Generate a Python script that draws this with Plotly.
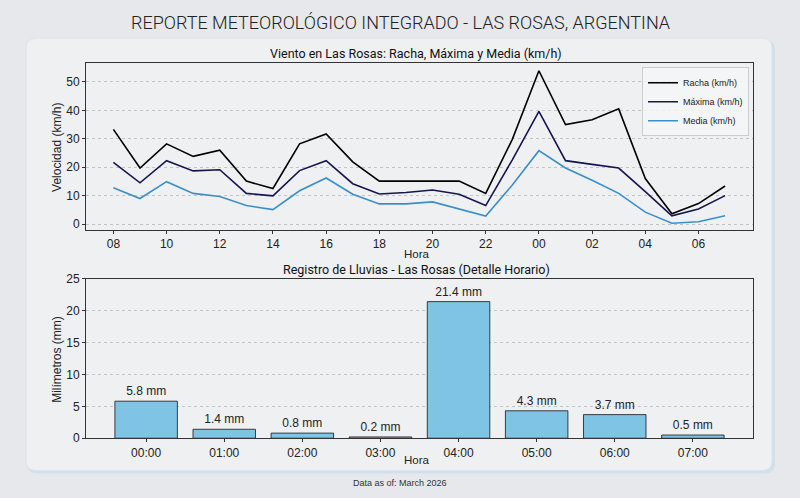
import plotly.graph_objects as go

# ---------------- data ----------------
horas = ["08", "09", "10", "11", "12", "13", "14", "15", "16", "17", "18", "19",
         "20", "21", "22", "23", "00", "01", "02", "03", "04", "05", "06", "07"]
racha = [33.3, 19.7, 28.2, 23.8, 26.0, 15.1, 12.5, 28.2, 31.7, 21.9, 15.1, 15.1,
         15.1, 15.1, 10.8, 29.8, 53.9, 35.0, 36.7, 40.5, 16.0, 3.6, 7.2, 13.4]
maxima = [21.7, 14.5, 22.3, 18.7, 19.1, 10.8, 9.9, 18.8, 22.3, 14.2, 10.6, 11.1,
          12.0, 10.5, 6.5, 22.6, 39.6, 22.3, 21.0, 19.7, 11.4, 2.9, 5.3, 10.0]
media = [12.8, 9.0, 14.9, 10.8, 9.7, 6.5, 5.1, 11.7, 16.2, 10.5, 7.1, 7.1,
         7.8, 5.2, 2.8, 13.7, 25.8, 19.7, 15.4, 10.8, 4.2, 0.3, 0.8, 2.9]

lluvia_horas = ["00:00", "01:00", "02:00", "03:00", "04:00", "05:00", "06:00", "07:00"]
lluvia_mm = [5.8, 1.4, 0.8, 0.2, 21.4, 4.3, 3.7, 0.5]

W, H = 800, 498

def px_x(p):
    return p / W

def px_y(p):
    return 1 - p / H

def rounded_rect(x0, y0, x1, y1, r):
    rx, ry = r / W, r / H
    X0, X1 = px_x(x0), px_x(x1)
    Y0, Y1 = px_y(y0), px_y(y1)  # Y0 top, Y1 bottom
    return (f"M {X0+rx},{Y0} L {X1-rx},{Y0} Q {X1},{Y0} {X1},{Y0-ry} "
            f"L {X1},{Y1+ry} Q {X1},{Y1} {X1-rx},{Y1} "
            f"L {X0+rx},{Y1} Q {X0},{Y1} {X0},{Y1+ry} "
            f"L {X0},{Y0-ry} Q {X0},{Y0} {X0+rx},{Y0} Z")

card_bg = "#eff0f2"
outer_bg = "#e6e8eb"
axis_col = "#333333"
grid_col = "#c4c4c4"
sans = "Liberation Sans, Arial, sans-serif"
tick_font = dict(family=sans, size=12, color="#222")

fig = go.Figure()

fig.add_trace(go.Scatter(x=horas, y=racha, mode="lines", name="Racha (km/h)",
                         line=dict(color="#000000", width=1.6), xaxis="x", yaxis="y"))
fig.add_trace(go.Scatter(x=horas, y=maxima, mode="lines", name="Máxima (km/h)",
                         line=dict(color="#16164f", width=1.6), xaxis="x", yaxis="y"))
fig.add_trace(go.Scatter(x=horas, y=media, mode="lines", name="Media (km/h)",
                         line=dict(color="#3a8fc9", width=1.6), xaxis="x", yaxis="y"))

fig.add_trace(go.Bar(x=lluvia_horas, y=lluvia_mm, width=0.8, showlegend=False,
                     marker=dict(color="#7fc4e4", line=dict(color="#2a2a2a", width=0.9)),
                     text=[f"{v:.1f} mm" for v in lluvia_mm], textposition="outside",
                     textfont=dict(family=sans, size=12, color="#222"),
                     cliponaxis=False, xaxis="x2", yaxis="y2"))

common_axis = dict(showline=True, mirror=True, linecolor=axis_col, linewidth=1,
                   ticks="outside", ticklen=3, tickcolor=axis_col, tickfont=tick_font,
                   zeroline=False)

fig.update_layout(
    width=W, height=H,
    margin=dict(l=0, r=0, t=0, b=0),
    paper_bgcolor=outer_bg,
    plot_bgcolor=card_bg,
    showlegend=True,
    bargap=0.2,
    xaxis=dict(domain=[px_x(86), px_x(753)], anchor="y", type="category",
               range=[-1.03, 24.05], tickmode="array", tickvals=horas[::2],
               showgrid=False, **common_axis),
    yaxis=dict(domain=[px_y(229.5), px_y(58)], anchor="x", range=[-2.1, 56.5],
               tickmode="array", tickvals=[0, 10, 20, 30, 40, 50],
               showgrid=True, gridcolor=grid_col, griddash="dot", gridwidth=0.8,
               **common_axis),
    xaxis2=dict(domain=[px_x(86), px_x(753)], anchor="y2", type="category",
                range=[-0.77, 7.77], showgrid=False, **common_axis),
    yaxis2=dict(domain=[px_y(443.7), px_y(279.5)], anchor="x2", range=[0, 25],
                tickmode="array", tickvals=[0, 5, 10, 15, 20, 25],
                showgrid=True, gridcolor=grid_col, griddash="dot", gridwidth=0.8,
                **common_axis),
    legend=dict(x=px_x(749), y=px_y(62), xanchor="right", yanchor="top",
                bgcolor="rgba(245,246,247,0.85)", bordercolor="#cccccc", borderwidth=1,
                font=dict(family=sans, size=9, color="#222"),
                itemwidth=30, tracegroupgap=0),
    shapes=[
        dict(type="path", xref="paper", yref="paper", layer="below",
             path=rounded_rect(27, 34, 775, 480, 10),
             fillcolor="#cfe0ee", line=dict(width=0)),
        dict(type="path", xref="paper", yref="paper", layer="below",
             path=rounded_rect(26, 32, 772, 477, 10),
             fillcolor=card_bg, line=dict(color="#dde3ea", width=1)),
    ],
)

title_font = "Roboto, Liberation Sans, sans-serif"
ann = [
    dict(text="REPORTE METEOROLÓGICO INTEGRADO - LAS ROSAS, ARGENTINA",
         x=0.5, y=px_y(16), font=dict(family=title_font, size=18, color="#222", weight=300)),
    dict(text="Viento en Las Rosas: Racha, Máxima y Media (km/h)",
         x=px_x(416), y=px_y(48), font=dict(family=title_font, size=12.5, color="#111")),
    dict(text="Registro de Lluvias - Las Rosas (Detalle Horario)",
         x=px_x(416), y=px_y(270), font=dict(family=title_font, size=12.5, color="#111")),
    dict(text="Hora", x=px_x(417), y=px_y(254),
         font=dict(family=sans, size=11.5, color="#222")),
    dict(text="Hora", x=px_x(417), y=px_y(466),
         font=dict(family=sans, size=11.5, color="#222")),
    dict(text="Velocidad (km/h)", x=px_x(57), y=px_y(144), textangle=-90,
         font=dict(family=sans, size=12, color="#222")),
    dict(text="Milímetros (mm)", x=px_x(57), y=px_y(362), textangle=-90,
         font=dict(family=sans, size=12, color="#222")),
    dict(text="Data as of: March 2026", x=0.5, y=px_y(490),
         font=dict(family=sans, size=9, color="#333")),
]
for a in ann:
    a.update(xref="paper", yref="paper", showarrow=False, xanchor="center", yanchor="middle")
fig.update_layout(annotations=ann)

fig.write_html("out.html")
